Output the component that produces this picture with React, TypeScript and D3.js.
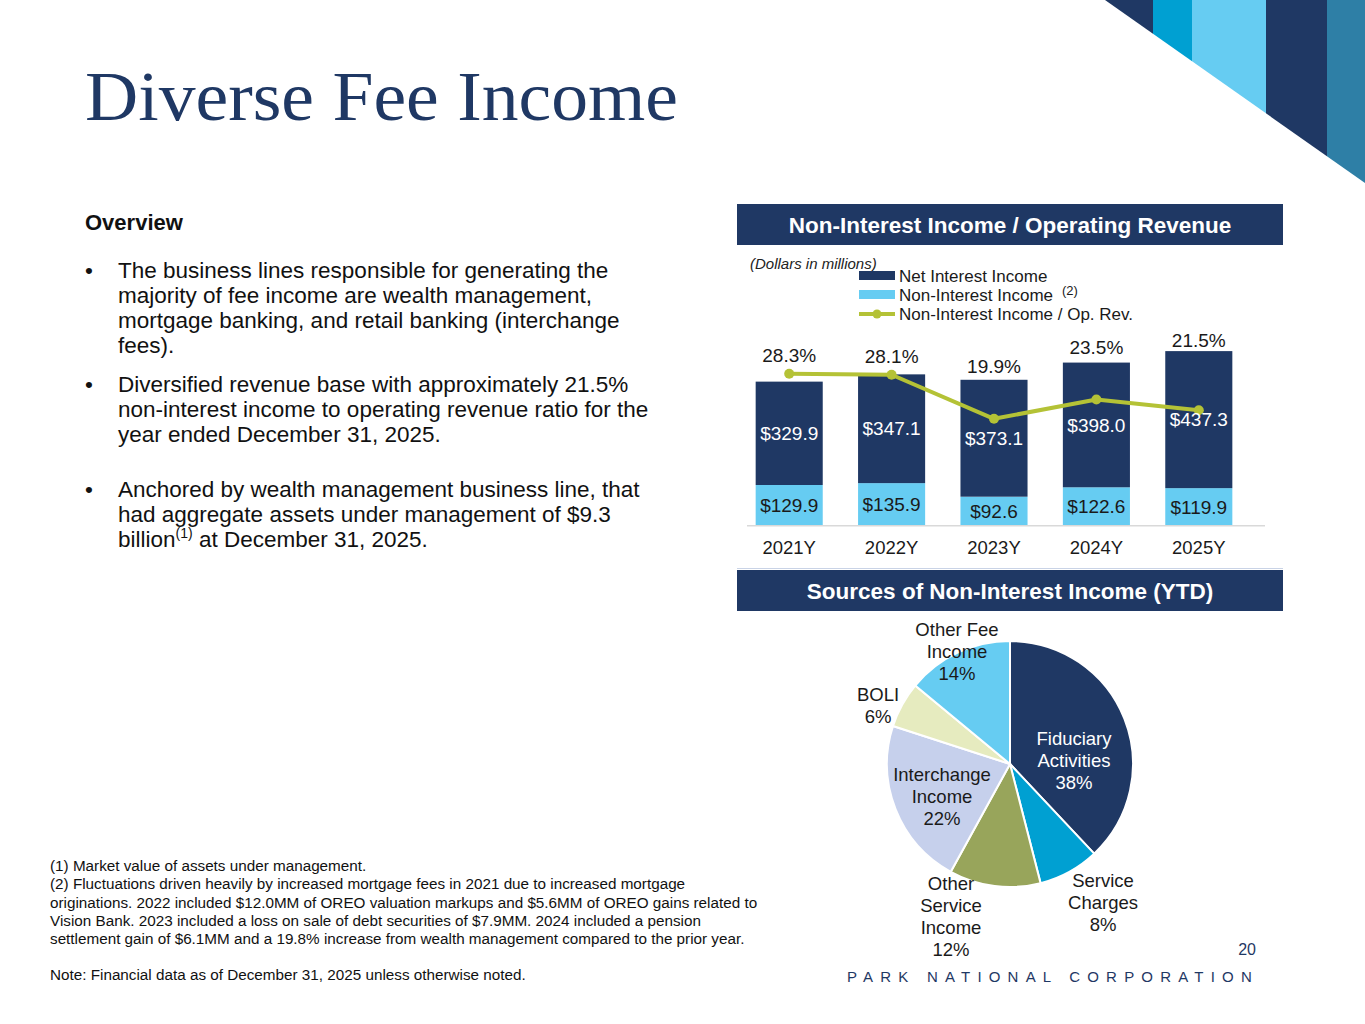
import React from "react";
import * as d3 from "d3";

const years = ["2021Y", "2022Y", "2023Y", "2024Y", "2025Y"];
const netInterestIncome = [329.9, 347.1, 373.1, 398.0, 437.3];
const nonInterestIncome = [129.9, 135.9, 92.6, 122.6, 119.9];
const nonInterestRatio = [28.3, 28.1, 19.9, 23.5, 21.5];
const pctLabelNudge = [-18, -18, -13, -15, -11];

const pieCategories = [
  "Fiduciary Activities",
  "Service Charges",
  "Other Service Income",
  "Interchange Income",
  "BOLI",
  "Other Fee Income",
];
const pieValues = [38, 8, 12, 22, 6, 14];
const pieColors = ["#1F3864", "#00A0D2", "#98A55B", "#C6D0EC", "#E6EBBF", "#66CCF2"];
const pieLabelLines = [
  ["Fiduciary", "Activities", "38%"],
  ["Service", "Charges", "8%"],
  ["Other", "Service", "Income", "12%"],
  ["Interchange", "Income", "22%"],
  ["BOLI", "6%"],
  ["Other Fee", "Income", "14%"],
];
const pieLabelOffsets = [
  [64, -3],
  [93, 139],
  [-59, 153],
  [-68, 33],
  [-132, -58],
  [-53, -112],
];
const pieLabelColors = ["#ffffff", "#1a1a1a", "#1a1a1a", "#1a1a1a", "#1a1a1a", "#1a1a1a"];

const bullets = [
  [
    "The business lines responsible for generating the",
    "majority of fee income are wealth management,",
    "mortgage banking, and retail banking (interchange",
    "fees).",
  ],
  [
    "Diversified revenue base with approximately 21.5%",
    "non-interest income to operating revenue ratio for the",
    "year ended December 31, 2025.",
  ],
  [
    "Anchored by wealth management business line, that",
    "had aggregate assets under management of $9.3",
    "billion",
  ],
];

const footnotes = [
  "(1) Market value of assets under management.",
  "(2) Fluctuations driven heavily by increased mortgage fees in 2021 due to increased mortgage",
  "originations. 2022 included $12.0MM of OREO valuation markups and $5.6MM of OREO gains related to",
  "Vision Bank. 2023 included a loss on sale of debt securities of $7.9MM. 2024 included a pension",
  "settlement gain of $6.1MM and a 19.8% increase from wealth management compared to the prior year.",
];

const NAVY = "#1F3864";
const LIGHT = "#66CCF2";
const GREEN = "#B4C236";
const SANS = "'Liberation Sans', Arial, sans-serif";

export default function App() {
  const x = d3
    .scaleBand<string>()
    .domain(years)
    .range([738, 1250])
    .paddingInner(0.345)
    .paddingOuter(0.1725);
  const y = d3.scaleLinear().domain([0, 600]).range([525.7, 337.7]);
  const y2 = d3.scaleLinear().domain([0, 35]).range([525.7, 337.7]);
  const bw = x.bandwidth();

  const linePath = d3
    .line<number>()
    .x((_, i) => (x(years[i]) as number) + bw / 2)
    .y((d) => y2(d))(nonInterestRatio) as string;

  const cx = 1010;
  const cy = 764;
  const r = 123;
  const arcs = d3.pie<number>().sort(null).value((d) => d)(pieValues);
  const arcGen = d3.arc<d3.PieArcDatum<number>>().innerRadius(0).outerRadius(r);

  const bulletStarts = [270, 384, 489];
  const lh = 25;

  return (
    <div style={{ position: "absolute", left: 0, top: 0 }}>
      <svg width={1365} height={1024} style={{ display: "block", background: "#fff" }}>
        <defs>
          <clipPath id="tri">
            <polygon points="1105,0 1365,0 1365,183" />
          </clipPath>
        </defs>
        <g clipPath="url(#tri)">
          <rect x={1100} y={0} width={53} height={190} fill={NAVY} />
          <rect x={1153} y={0} width={39} height={190} fill="#00A0D2" />
          <rect x={1192} y={0} width={74} height={190} fill={LIGHT} />
          <rect x={1266} y={0} width={61} height={190} fill={NAVY} />
          <rect x={1327} y={0} width={38} height={190} fill="#2E7FA6" />
        </g>

        <text
          x={85}
          y={120}
          fontFamily="'Liberation Serif', 'DejaVu Serif', serif"
          fontSize={70}
          fill={NAVY}
          textLength={593}
          lengthAdjust="spacingAndGlyphs"
        >
          Diverse Fee Income
        </text>

        <text x={85} y={230} fontFamily={SANS} fontSize={22} fontWeight="bold" fill="#111">
          Overview
        </text>
        {bullets.map((lines, bi) => (
          <g key={bi} fontFamily={SANS} fontSize={22.5} fill="#111">
            <text x={85} y={bulletStarts[bi] + 8}>•</text>
            {lines.map((ln, li) => (
              <text key={li} x={118} y={bulletStarts[bi] + li * lh + 8}>
                {ln}
                {bi === 2 && li === 2 ? (
                  <>
                    <tspan fontSize={14} dy={-9}>(1)</tspan>
                    <tspan dy={9}> at December 31, 2025.</tspan>
                  </>
                ) : null}
              </text>
            ))}
          </g>
        ))}

        <rect x={737} y={204} width={546} height={41} fill={NAVY} />
        <text
          x={1010}
          y={233}
          textAnchor="middle"
          fontFamily={SANS}
          fontWeight="bold"
          fontSize={22.5}
          fill="#fff"
        >
          Non-Interest Income / Operating Revenue
        </text>

        <text x={750} y={269} fontFamily={SANS} fontStyle="italic" fontSize={15} fill="#222">
          (Dollars in millions)
        </text>

        <g fontFamily={SANS} fontSize={17} fill="#1a1a1a">
          <rect x={859} y={271} width={36} height={9} fill={NAVY} />
          <text x={899} y={282}>Net Interest Income</text>
          <rect x={859} y={290} width={36} height={9} fill={LIGHT} />
          <text x={899} y={301}>Non-Interest Income</text>
          <text x={1062} y={295} fontSize={13}>(2)</text>
          <line x1={859} x2={895} y1={314} y2={314} stroke={GREEN} strokeWidth={4} />
          <circle cx={877} cy={314} r={4.5} fill={GREEN} />
          <text x={899} y={320}>Non-Interest Income / Op. Rev.</text>
        </g>

        {years.map((yr, i) => {
          const x0 = x(yr) as number;
          const nonTop = y(nonInterestIncome[i]);
          const top = y(nonInterestIncome[i] + netInterestIncome[i]);
          return (
            <g key={yr}>
              <rect x={x0} y={nonTop} width={bw} height={y(0) - nonTop} fill={LIGHT} />
              <rect x={x0} y={top} width={bw} height={nonTop - top} fill={NAVY} />
            </g>
          );
        })}
        <line x1={747} x2={1265} y1={y(0)} y2={y(0)} stroke="#d9d9d9" strokeWidth={1.5} />

        <path d={linePath} fill="none" stroke={GREEN} strokeWidth={4} strokeLinejoin="round" />
        {nonInterestRatio.map((v, i) => (
          <circle key={i} cx={(x(years[i]) as number) + bw / 2} cy={y2(v)} r={5} fill={GREEN} />
        ))}

        {years.map((yr, i) => {
          const xc = (x(yr) as number) + bw / 2;
          const nonTop = y(nonInterestIncome[i]);
          const top = y(nonInterestIncome[i] + netInterestIncome[i]);
          return (
            <g key={yr} fontFamily={SANS} fontSize={19} textAnchor="middle">
              <text x={xc} y={(nonTop + top) / 2} dy="0.35em" fill="#fff">
                {"$" + netInterestIncome[i].toFixed(1)}
              </text>
              <text x={xc} y={(nonTop + y(0)) / 2} dy="0.35em" fill="#1a1a1a">
                {"$" + nonInterestIncome[i].toFixed(1)}
              </text>
              <text x={xc} y={Math.min(top, y2(nonInterestRatio[i])) + pctLabelNudge[i]} dy="0.35em" fill="#1a1a1a">
                {nonInterestRatio[i].toFixed(1) + "%"}
              </text>
              <text x={xc} y={548} dy="0.35em" fill="#1a1a1a" fontSize={18.5}>
                {yr}
              </text>
            </g>
          );
        })}

        <line x1={737} x2={1283} y1={568.5} y2={568.5} stroke="#c9d3e6" strokeWidth={1} />
        <rect x={737} y={570} width={546} height={41} fill={NAVY} />
        <text
          x={1010}
          y={599}
          textAnchor="middle"
          fontFamily={SANS}
          fontWeight="bold"
          fontSize={22.5}
          fill="#fff"
        >
          Sources of Non-Interest Income (YTD)
        </text>

        <g transform={`translate(${cx},${cy})`}>
          {arcs.map((a, i) => (
            <path
              key={pieCategories[i]}
              d={arcGen(a) as string}
              fill={pieColors[i]}
              stroke="#fff"
              strokeWidth={2}
            />
          ))}
          {pieLabelLines.map((lines, i) => {
            const [dx, dy] = pieLabelOffsets[i];
            const n = lines.length;
            return (
              <text
                key={i}
                textAnchor="middle"
                fontFamily={SANS}
                fontSize={18.5}
                fill={pieLabelColors[i]}
              >
                {lines.map((ln, li) => (
                  <tspan key={li} x={dx} y={dy + (li - (n - 1) / 2) * 22} dy="0.35em">
                    {ln}
                  </tspan>
                ))}
              </text>
            );
          })}
        </g>

        <g transform="translate(50,0) scale(1.053,1)">
          {footnotes.map((f, i) => (
            <text key={i} x={0} y={871 + i * 18.3} fontFamily={SANS} fontSize={14.5} fill="#111">
              {f}
            </text>
          ))}
          <text x={0} y={980} fontFamily={SANS} fontSize={14.5} fill="#111">
            Note: Financial data as of December 31, 2025 unless otherwise noted.
          </text>
        </g>

        <text x={1256} y={955} textAnchor="end" fontFamily={SANS} fontSize={16} fill={NAVY}>
          20
        </text>
        <text
          x={847}
          y={982}
          fontFamily={SANS}
          fontSize={15}
          fill={NAVY}
          letterSpacing={7.2}
        >
          PARK NATIONAL CORPORATION
        </text>
      </svg>
    </div>
  );
}
